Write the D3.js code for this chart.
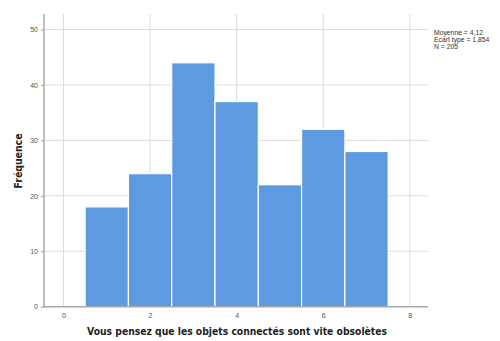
<!DOCTYPE html>
<html><head><meta charset="utf-8">
<script src="https://cdn.jsdelivr.net/npm/d3@7"></script>
<style>body{margin:0;background:#fff}svg{display:block}</style>
</head><body>
<script>
const categories = [1,2,3,4,5,6,7];
const counts = [18,24,44,37,22,32,28];
const xTicks = [0,2,4,6,8];
const yTicks = [0,10,20,30,40,50];
const statsLines = ["Moyenne = 4,12","Ecart type = 1,854","N = 205"];
const xTitle = "Vous pensez que les objets connectés sont vite obsolètes";
const yTitle = "Fréquence";

const W=500,H=341;
const svg=d3.select("body").append("svg").attr("width",W).attr("height",H);
const x=d3.scaleLinear().domain([-0.45,8.42]).range([44,428]);
const y=d3.scaleLinear().domain([0,52.8]).range([306.7,14]);
const font="'DejaVu Sans', Verdana, sans-serif";
const font2="'Liberation Sans', Arial, sans-serif";

// grid
svg.append("g").selectAll("line").data(yTicks.filter(d=>d>0)).join("line")
 .attr("x1",44).attr("x2",428).attr("y1",d=>y(d)).attr("y2",d=>y(d))
 .attr("stroke","#dcdcdc").attr("stroke-width",1);
svg.append("g").selectAll("line").data(xTicks).join("line")
 .attr("x1",d=>x(d)).attr("x2",d=>x(d)).attr("y1",14).attr("y2",306.7)
 .attr("stroke","#dcdcdc").attr("stroke-width",1);

// bars
svg.append("g").selectAll("rect").data(categories).join("rect")
 .attr("x",d=>x(d-0.5)).attr("width",d=>x(d+0.5)-x(d-0.5))
 .attr("y",(d,i)=>y(counts[i])).attr("height",(d,i)=>y(0)-y(counts[i]))
 .attr("fill","#5d9ae2").attr("stroke","#ffffff").attr("stroke-width",1.2);

// axes
const yAxis=d3.axisLeft(y).tickValues(yTicks).tickSize(3).tickPadding(3);
const gy=svg.append("g").attr("transform","translate(44,0)").call(yAxis);
const xAxis=d3.axisBottom(x).tickValues(xTicks).tickSize(0).tickPadding(6);
const gx=svg.append("g").attr("transform","translate(0,306.7)").call(xAxis);
[gx,gy].forEach(g=>{
  g.select(".domain").remove();
  g.selectAll("text").attr("font-family",font2).attr("font-size",7).attr("fill","#555");
  g.selectAll(".tick line").attr("stroke","#999");
});
svg.append("line").attr("x1",44).attr("x2",44).attr("y1",14).attr("y2",306.7).attr("stroke","#a8a8a8").attr("stroke-width",1.5);
svg.append("line").attr("x1",43).attr("x2",428).attr("y1",306.7).attr("y2",306.7).attr("stroke","#a8a8a8").attr("stroke-width",1.5);

// titles
svg.append("text").attr("x",237).attr("y",335).attr("text-anchor","middle")
 .attr("font-family",font).attr("font-weight","bold").attr("font-size",9.6).attr("fill","#222")
 .attr("textLength",300).attr("lengthAdjust","spacingAndGlyphs").text(xTitle);
svg.append("text").attr("transform","translate(22,161) rotate(-90)").attr("text-anchor","middle")
 .attr("font-family",font).attr("font-weight","bold").attr("font-size",9.6).attr("fill","#222")
 .attr("textLength",55).attr("lengthAdjust","spacingAndGlyphs").text(yTitle);

// stats
svg.append("g").selectAll("text").data(statsLines).join("text")
 .attr("x",434).attr("y",(d,i)=>35+i*6.8).attr("font-family",font2).attr("font-size",6.8).attr("fill","#333").text(d=>d);
</script>
</body></html>
